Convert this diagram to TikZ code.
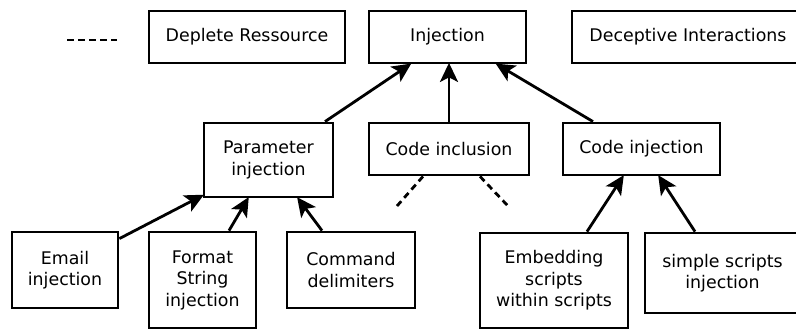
\documentclass[tikz,border=0pt]{standalone}
\usepackage{fontspec}
\setmainfont{DejaVu Sans}
\usetikzlibrary{arrows.meta}
\begin{document}
\begin{tikzpicture}[x=1bp,y=-1bp,
  box/.style={draw=black, line width=2.8bp, inner sep=0pt, align=center,
    font=\fontsize{17.4bp}{21.5bp}\selectfont},
  arr/.style={line width=2.8bp, -{Stealth[length=19bp,width=18bp,inset=4.5bp]}, shorten >=-1.5bp},
  dsh/.style={line width=2.8bp, dash pattern=on 6.5bp off 4.5bp}]
\useasboundingbox (0,0) rectangle (796,330);
\clip (0,0) rectangle (796,330);
\fill[white] (0,0) rectangle (796,330);
% top row
\node[box, minimum width=196bp, minimum height=52bp] (dep) at (247,37) {Deplete Ressource};
\node[box, minimum width=157bp, minimum height=52bp] (inj) at (447.5,37) {Injection};
\node[box, minimum width=232bp, minimum height=52bp] (dec) at (688,37) {Deceptive Interactions};
% middle row
\node[box, minimum width=129bp, minimum height=74bp] (par) at (268.5,160) {Parameter\\injection};
\node[box, minimum width=160bp, minimum height=52bp] (inc) at (449,149) {Code inclusion};
\node[box, minimum width=157bp, minimum height=52bp] (cij) at (641.5,149) {Code injection};
% bottom row
\node[box, minimum width=106bp, minimum height=76bp] (em) at (65,270) {Email\\injection};
\node[box, minimum width=107bp, minimum height=96bp] (fmt) at (202.5,280) {Format\\String\\injection};
\node[box, minimum width=128bp, minimum height=76bp] (cmd) at (351,270) {Command\\delimiters};
\node[box, minimum width=148bp, minimum height=95bp] (emb) at (554,280.5) {Embedding\\scripts\\within scripts};
\node[box, minimum width=155bp, minimum height=80bp] (sim) at (722.5,273) {simple scripts\\injection};
% legend dash
\coordinate (lgA) at (67,40);
\coordinate (lgB) at (117,40);
\draw[dsh] (lgA) -- (lgB);
% arrows to Injection
\draw[arr] ([xshift=56.5bp]par.north) -- ([xshift=-37.5bp]inj.south);
\draw[arr] (inc.north) -- ([xshift=1.5bp]inj.south);
\draw[arr] ([xshift=-48.5bp]cij.north) -- ([xshift=49.5bp]inj.south);
% arrows to Parameter injection
\draw[arr] ([yshift=-8bp]em.north east) -- ([yshift=3bp]par.south west);
\draw[arr] ([xshift=26.5bp]fmt.north) -- ([xshift=-20.5bp]par.south);
\draw[arr] ([xshift=-29bp]cmd.north) -- ([xshift=29.5bp]par.south);
% arrows to Code injection
\draw[arr] ([xshift=33bp]emb.north) -- ([xshift=-18.5bp]cij.south);
\draw[arr] ([xshift=-27.5bp]sim.north) -- ([xshift=17.5bp]cij.south);
% dashed from Code inclusion
\coordinate (dl) at (397,206);
\coordinate (dr) at (508,206);
\draw[dsh] ([xshift=-26bp]inc.south) -- (dl);
\draw[dsh] ([xshift=31bp]inc.south) -- (dr);
\end{tikzpicture}
\end{document}
